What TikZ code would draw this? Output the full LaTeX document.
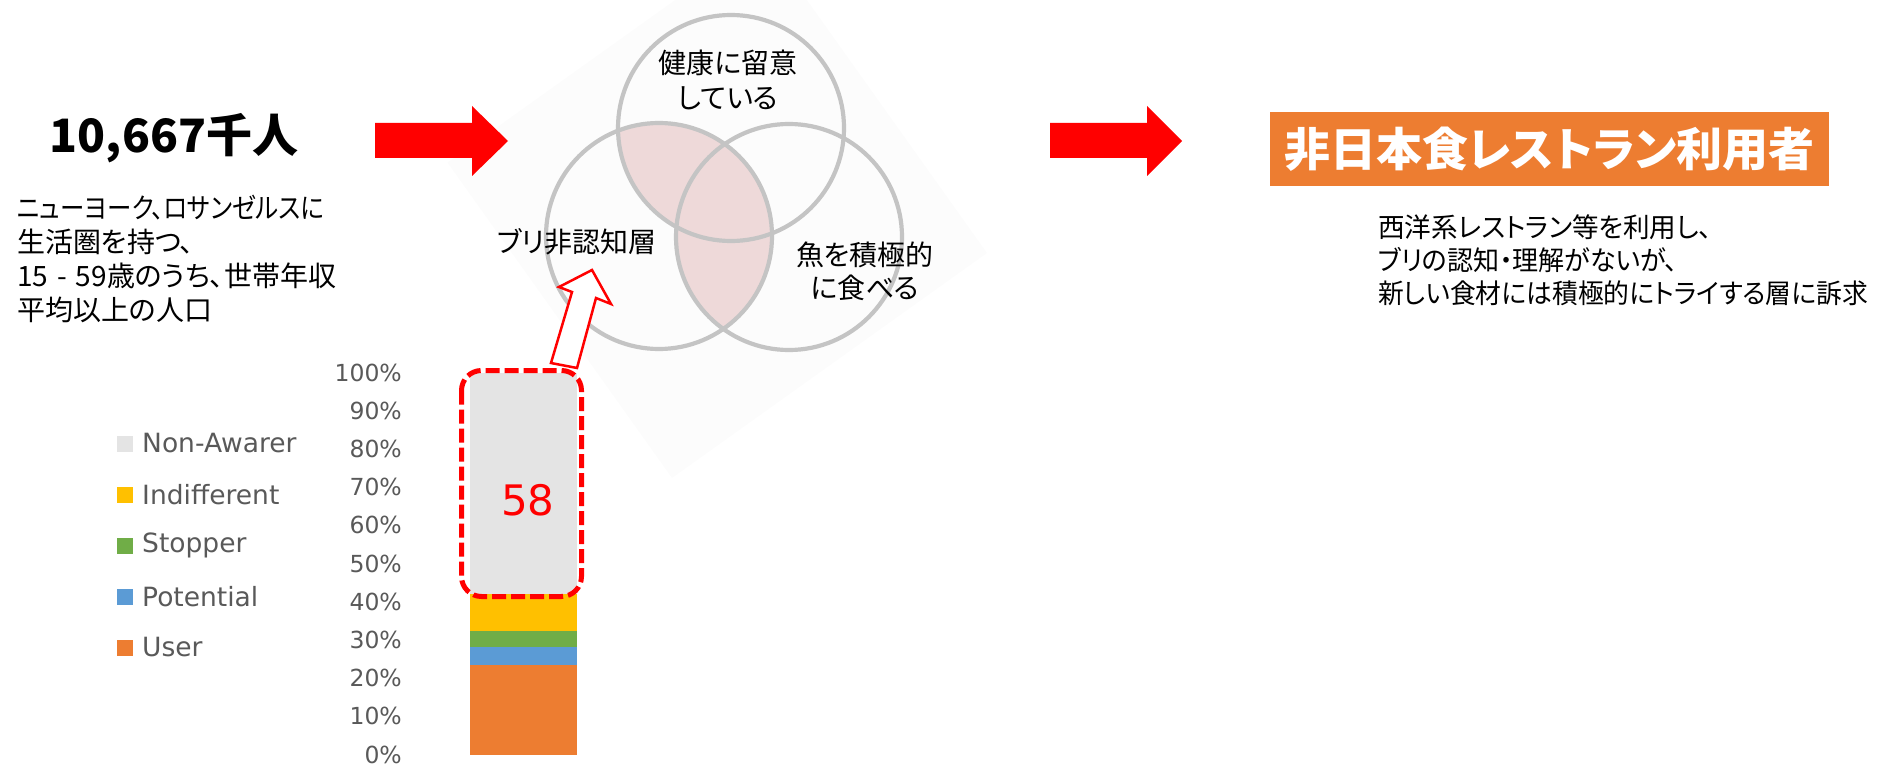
\documentclass[tikz,border=0pt]{standalone}
\usepackage{graphicx}
\usepackage{fontspec}
\setmainfont[RawFeature=+palt]{Noto Sans CJK JP}
\newfontfamily\chartfont{DejaVu Sans}
\definecolor{venngray}{HTML}{C4C4C4}
\definecolor{vennpink}{HTML}{EED9D9}
\definecolor{bgdiamond}{HTML}{FCFCFC}
\definecolor{orangebox}{HTML}{ED7D31}
\definecolor{cuser}{HTML}{ED7D31}
\definecolor{cpotential}{HTML}{5B9BD5}
\definecolor{cstopper}{HTML}{70AD47}
\definecolor{cindiff}{HTML}{FFC000}
\definecolor{cnonaware}{HTML}{E4E4E4}
\definecolor{axisgray}{HTML}{595959}
\definecolor{pureRed}{HTML}{FF0000}
\tikzset{
  bigarrow/.style={fill=pureRed, draw=none},
  venncircle/.style={draw=venngray, line width=4.2pt},
  venntext/.style={font=\fontsize{28}{34}\selectfont, align=center, anchor=base, inner sep=0pt},
  axislabel/.style={font=\chartfont\fontsize{23.5}{26}\selectfont, text=axisgray, anchor=east, inner sep=0pt},
  legendtext/.style={font=\chartfont\fontsize{26.5}{30}\selectfont, text=axisgray, anchor=west, inner sep=0pt},
  legendkey/.style={minimum size=16pt, inner sep=0pt, draw=none},
}
\begin{document}
\begin{tikzpicture}[x=1pt, y=-1pt]
\useasboundingbox (0,0) rectangle (1883,765);
% faint background diamond
\begin{scope}
\clip (0,0) rectangle (1883,765);
\fill[bgdiamond] (447.5,162.6) -- (672,478) -- (987,253) -- (762.5,-62.4) -- cycle;
\end{scope}
% Venn shading: left circle intersected with (top or right)
\begin{scope}
\clip (659,236) circle[radius=113pt];
\fill[vennpink] (731,128) circle[radius=113pt] (789,237) circle[radius=113pt];
\end{scope}
\node[venncircle, circle, minimum size=226pt, inner sep=0pt] (ctop) at (731,128) {};
\node[venncircle, circle, minimum size=226pt, inner sep=0pt] (cleft) at (659,236) {};
\node[venncircle, circle, minimum size=226pt, inner sep=0pt] (cright) at (789,237) {};
% (base anchor of a multi-line node = baseline of its last line)
\node[venntext, font=\fontsize{28}{35}\selectfont] (ttop) at (728,108.6) {健康に留意\\している};
\node[venntext] (tleft) at (577,252.6) {ブリ非認知層};
\node[venntext, font=\fontsize{28}{33}\selectfont] (tright) at (865,298.6) {魚を積極的\\に食べる};
% big red arrows
\fill[bigarrow] (375,123) -- (472,123) -- (472,106) -- (508,141) -- (472,176) -- (472,158) -- (375,158) -- cycle;
\fill[bigarrow] (1050,123) -- (1147,123) -- (1147,106) -- (1182,141) -- (1147,176) -- (1147,158) -- (1050,158) -- cycle;
% left texts
\node[font=\bfseries\fontsize{46}{50}\selectfont, inner sep=0pt] (total) at (174,138) {10,667千人};
\node[anchor=base west, align=left, inner sep=0pt, font=\fontsize{28}{34}\selectfont] (desc) at (17,320.6)
  {\resizebox{307pt}{\height}{ニューヨーク、ロサンゼルスに}\\生活圏を持つ、\\15\hspace{9pt}-\hspace{9pt}59歳のうち、世帯年収\\平均以上の人口};
% right side
\node[fill=orangebox, minimum width=559pt, minimum height=74pt, inner sep=0pt,
      text=white, font=\bfseries\fontsize{46}{50}\selectfont] (target) at (1549.5,149) {非日本食レストラン利用者};
\node[anchor=base west, align=left, inner sep=0pt, font=\fontsize{27}{33}\selectfont] (appeal) at (1378,303.6)
  {\resizebox{334pt}{\height}{西洋系レストラン等を利用し、}\\
   \resizebox{300pt}{\height}{ブリの認知・理解がないが、}\\
   \resizebox{490pt}{\height}{新しい食材には積極的にトライする層に訴求}};
% axis labels
\foreach \p in {0,10,...,100} {
  \node[axislabel] (ax\p) at (402,{754.5-3.82*\p}) {\p\%};
}
% stacked bar
\fill[cuser] (470,754.5) rectangle (577,665.4);
\fill[cpotential] (470,665.4) rectangle (577,647.4);
\fill[cstopper] (470,647.4) rectangle (577,630.6);
\fill[cindiff] (470,630.6) rectangle (577,593.6);
\fill[cnonaware] (470,593.6) rectangle (577,372.5);
% legend
\node[legendkey, fill=cnonaware] (k1) at (125,443.5) {};
\node[legendkey, fill=cindiff] (k2) at (125,494.5) {};
\node[legendkey, fill=cstopper] (k3) at (125,545.5) {};
\node[legendkey, fill=cpotential] (k4) at (125,596.5) {};
\node[legendkey, fill=cuser] (k5) at (125,647.5) {};
\node[legendtext] (l1) at (142,443.5) {Non-Awarer};
\node[legendtext] (l2) at (142,494.5) {Indifferent};
\node[legendtext] (l3) at (142,545.5) {Stopper};
\node[legendtext] (l4) at (142,596.5) {Potential};
\node[legendtext] (l5) at (142,647.5) {User};
% dashed highlight
\draw[pureRed, line width=5pt, dash pattern=on 14pt off 5pt, rounded corners=20pt] (461.5,370.5) rectangle (581.5,596.5);
\node[text=pureRed, font=\chartfont\fontsize{42}{46}\selectfont, inner sep=0pt] (val) at (528,500) {58};
% hollow arrow
\draw[pureRed, line width=2.5pt, fill=white, line join=miter]
  (551,363) -- (572,292) -- (559,287) -- (592,270) -- (611,304) -- (596,298) -- (577,368) -- cycle;
\end{tikzpicture}
\end{document}
